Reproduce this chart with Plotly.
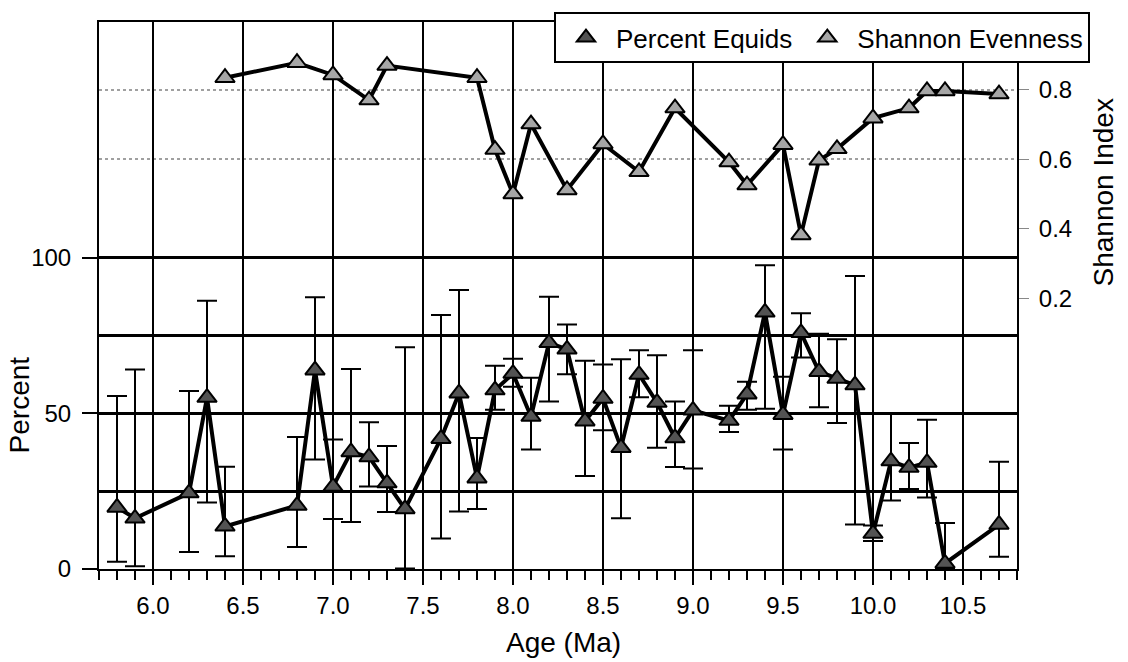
import plotly.graph_objects as go

# ---- data ----
ages_equids = [5.8, 5.9, 6.2, 6.3, 6.4, 6.8, 6.9, 7.0, 7.1, 7.2, 7.3, 7.4, 7.6, 7.7, 7.8, 7.9,
               8.0, 8.1, 8.2, 8.3, 8.4, 8.5, 8.6, 8.7, 8.8, 8.9, 9.0, 9.2, 9.3, 9.4, 9.5, 9.6,
               9.7, 9.8, 9.9, 10.0, 10.1, 10.2, 10.3, 10.4, 10.7]
percent_equids = [19.8, 16.3, 24.4, 55.1, 13.7, 20.4, 63.9, 26.5, 37.6, 36.0, 27.6, 19.3, 41.9,
                  56.5, 29.2, 57.5, 62.8, 49.0, 72.7, 70.6, 47.5, 54.8, 39.0, 62.5, 53.5, 42.1,
                  51.0, 47.7, 56.2, 82.5, 49.6, 75.9, 63.4, 61.2, 59.1, 11.4, 34.7, 32.6, 34.2,
                  1.8, 14.3]
equids_upper = [55.6, 64.1, 57.2, 86.2, 32.9, 42.4, 87.3, 41.6, 64.3, 47.2, 39.5, 71.3, 81.6,
                89.7, 42.1, 65.3, 67.6, 61.5, 87.5, 78.6, 66.9, 65.7, 67.4, 70.3, 68.7, 53.8,
                70.3, 52.5, 60.2, 97.6, 61.8, 82.2, 75.6, 73.8, 94.2, 14.0, 50.1, 40.5, 48.0,
                14.8, 34.5]
equids_lower = [2.3, 0.9, 5.5, 21.4, 4.1, 7.1, 35.2, 16.1, 15.1, 26.5, 18.3, 0.2, 9.8, 18.5,
                19.3, 51.2, 58.6, 38.4, 53.8, 62.6, 29.9, 44.6, 16.3, 55.2, 39.0, 32.8, 32.3,
                44.0, 51.2, 51.5, 38.4, 68.0, 52.0, 46.9, 14.3, 9.0, 22.0, 25.7, 23.0, 0.0, 3.9]

ages_shannon = [6.4, 6.8, 7.0, 7.2, 7.3, 7.8, 7.9, 8.0, 8.1, 8.3, 8.5, 8.7, 8.9, 9.2, 9.3, 9.5,
                9.6, 9.7, 9.8, 10.0, 10.2, 10.3, 10.4, 10.7]
shannon_evenness = [0.834, 0.877, 0.842, 0.770, 0.869, 0.834, 0.628, 0.500, 0.701, 0.512,
                    0.644, 0.564, 0.747, 0.592, 0.526, 0.642, 0.383, 0.597, 0.630, 0.718,
                    0.747, 0.796, 0.796, 0.787]

x_ticks = [6.0, 6.5, 7.0, 7.5, 8.0, 8.5, 9.0, 9.5, 10.0, 10.5]
percent_ticks = [0, 50, 100]
percent_grid = [25, 75]
shannon_ticks = [0.2, 0.4, 0.6, 0.8]
shannon_grid = [0.6, 0.8]

FONT = "Liberation Sans, Arial, Helvetica, sans-serif"
DARK = "#535353"
LIGHT = "#a6a6a6"

err_plus = [u - v for u, v in zip(equids_upper, percent_equids)]
err_minus = [v - l for v, l in zip(percent_equids, equids_lower)]

fig = go.Figure()

fig.add_trace(go.Scatter(
    x=ages_equids, y=percent_equids, mode="lines+markers", showlegend=False,
    line=dict(color="black", width=4),
    marker=dict(symbol="triangle-up", size=17, color=DARK, line=dict(color="black", width=2)),
    error_y=dict(type="data", array=err_plus, arrayminus=err_minus, color="black",
                 thickness=2, width=10),
    yaxis="y"))

fig.add_trace(go.Scatter(
    x=ages_shannon, y=shannon_evenness, mode="lines+markers", showlegend=False,
    line=dict(color="black", width=4),
    marker=dict(symbol="triangle-up", size=17, color=LIGHT, line=dict(color="black", width=2)),
    yaxis="y2"))

# legend-only entries (markers without line)
fig.add_trace(go.Scatter(x=[None], y=[None], mode="markers", name="Percent Equids",
                         marker=dict(symbol="triangle-up", size=17, color=DARK,
                                     line=dict(color="black", width=2))))
fig.add_trace(go.Scatter(x=[None], y=[None], mode="markers", name="Shannon Evenness",
                         marker=dict(symbol="triangle-up", size=17, color=LIGHT,
                                     line=dict(color="black", width=2))))

fig.update_layout(
    width=1128, height=662,
    margin=dict(l=99, r=111, t=17, b=93),
    paper_bgcolor="white", plot_bgcolor="white",
    font=dict(family=FONT, size=24, color="black"),
    xaxis=dict(
        range=[5.7, 10.8], tickvals=x_ticks, tickformat=".1f",
        showgrid=True, gridcolor="black", gridwidth=2,
        ticks="outside", ticklen=14, tickwidth=2, tickcolor="black",
        showline=True, linecolor="black", linewidth=2, mirror=True,
        zeroline=False, tickfont=dict(size=24),
        minor=dict(dtick=0.1, tick0=5.7, ticks="outside", ticklen=9, tickwidth=2,
                   tickcolor="black", showgrid=False),
    ),
    yaxis=dict(
        range=[0, 175.8], tickvals=percent_ticks,
        showgrid=True, gridcolor="black", gridwidth=2.5,
        ticks="outside", ticklen=15, tickwidth=2, tickcolor="black",
        showline=True, linecolor="black", linewidth=2,
        zeroline=False, tickfont=dict(size=24), ticklabelstandoff=6,
        minor=dict(tickvals=percent_grid, showgrid=True, gridcolor="black", gridwidth=2.5,
                   ticks=""),
    ),
    yaxis2=dict(
        overlaying="y", side="right", range=[-0.576, 0.994],
        tickvals=shannon_ticks, tickformat=".1f",
        showgrid=False, ticks="outside", ticklen=10, tickwidth=1, tickcolor="#888888",
        showline=True, linecolor="black", linewidth=2,
        zeroline=False, tickfont=dict(size=24), ticklabelstandoff=5,
        minor=dict(tickvals=shannon_grid, showgrid=True, gridcolor="#a0a0a0",
                   gridwidth=2, griddash="dot", ticks=""),
    ),
    legend=dict(
        orientation="h", x=1.0795, xanchor="right", y=1.018, yanchor="top",
        bgcolor="white", bordercolor="black", borderwidth=2, itemwidth=50,
        font=dict(family=FONT, size=26, color="black"),
    ),
    annotations=[
        dict(text="Percent", xref="paper", yref="paper", x=-0.0862, y=0.3007,
             textangle=-90, showarrow=False, font=dict(size=28),
             xanchor="center", yanchor="middle"),
        dict(text="Age (Ma)", xref="paper", yref="paper", x=0.5065, y=-0.134,
             showarrow=False, font=dict(size=28), xanchor="center", yanchor="middle"),
        dict(text="Shannon Index", xref="paper", yref="paper", x=1.0937, y=0.6884,
             textangle=-90, showarrow=False, font=dict(size=28),
             xanchor="center", yanchor="middle"),
    ],
)

fig.write_html("out.html")
